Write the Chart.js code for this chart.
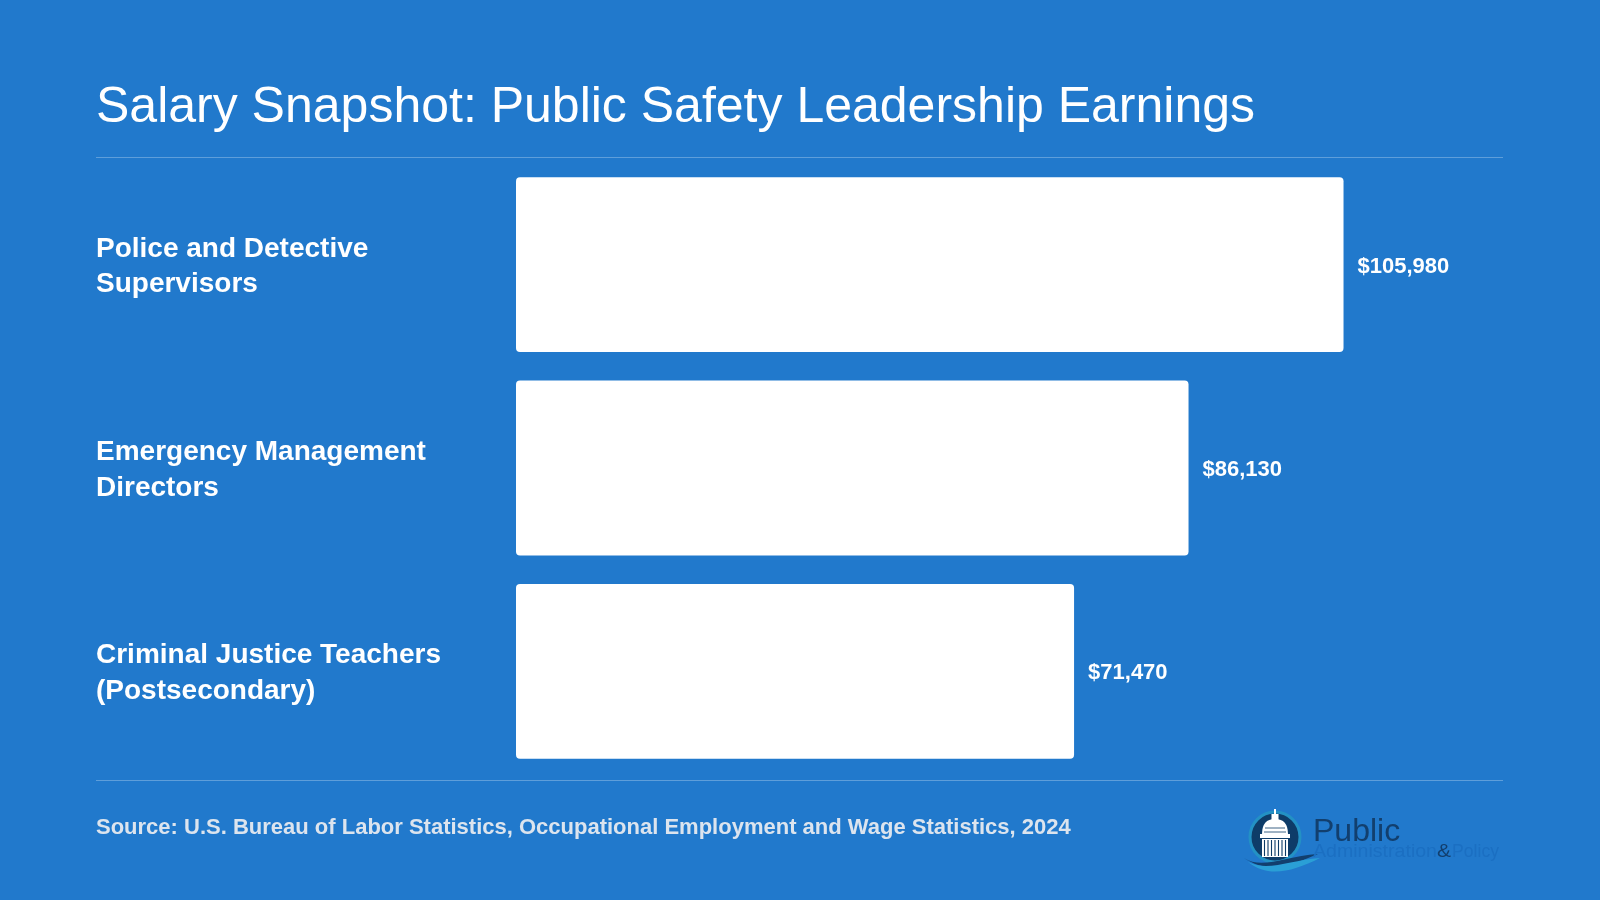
<!DOCTYPE html>
<html>
<head>
<meta charset="utf-8">
<script src="https://cdn.jsdelivr.net/npm/chart.js@4/dist/chart.umd.min.js"></script>
<style>
  html, body { margin: 0; padding: 0; }
  body { width: 1600px; height: 900px; background: #2179cc; position: relative; overflow: hidden;
         font-family: "Liberation Sans", Arial, Helvetica, sans-serif; }
  #chart { position: absolute; left: 0; top: 0; }
  .title { position: absolute; left: 96px; top: 80px; font-size: 50px; line-height: 50px; color: #fff; white-space: nowrap; }
  .rule { position: absolute; left: 96px; width: 1407px; height: 1px; background: rgba(255,255,255,0.28); }
  .source { position: absolute; left: 96px; top: 816px; font-size: 22px; line-height: 22px; font-weight: bold; color: #dce4ee; white-space: nowrap; }
  .logo { position: absolute; left: 1240px; top: 800px; }
</style>
</head>
<body>
<div class="title">Salary Snapshot: Public Safety Leadership Earnings</div>
<div class="rule" style="top:157px"></div>
<div class="rule" style="top:780px"></div>
<canvas id="chart" width="1600" height="900"></canvas>
<div class="source">Source: U.S. Bureau of Labor Statistics, Occupational Employment and Wage Statistics, 2024</div>
<svg class="logo" width="280" height="80" viewBox="0 0 280 80">
  <circle cx="35" cy="37" r="25" fill="#0e3c68" stroke="#2391c4" stroke-width="3"/>
  <rect x="34" y="9" width="2" height="6" fill="#fff"/>
  <rect x="31.5" y="14" width="7" height="6" fill="#fff"/>
  <path d="M22 34 Q22 19 35 19 Q48 19 48 34 Z" fill="#fff"/>
  <path d="M25 28 H45 M24 32 H46" stroke="#0e3c68" stroke-width="0.8"/>
  <rect x="20" y="34" width="30" height="4" fill="#fff"/>
  <rect x="22" y="39" width="26" height="18" fill="#fff"/>
  <path d="M24.5 40 V56 M28 40 V56 M31.5 40 V56 M35 40 V56 M38.5 40 V56 M42 40 V56 M45.5 40 V56" stroke="#0e3c68" stroke-width="1.1"/>
  <path d="M4 58 C22 70 45 56 78 54 C50 66 28 74 4 58 Z" fill="#123f6e"/>
  <path d="M8 62 C28 72 50 60 80 58 C52 72 28 78 8 62 Z" fill="#2a9fd6"/>
  <text x="73" y="41" font-size="32" fill="#123f6e" font-family="Liberation Sans, Arial, sans-serif">Public</text>
  <text x="73" y="57" font-size="19" fill="#1b6fc2" font-family="Liberation Sans, Arial, sans-serif" textLength="124" lengthAdjust="spacingAndGlyphs">Administration</text>
  <text x="197" y="57" font-size="19" fill="#123f6e" font-family="Liberation Sans, Arial, sans-serif" textLength="14" lengthAdjust="spacingAndGlyphs">&amp;</text>
  <text x="212" y="57" font-size="19" fill="#1b6fc2" font-family="Liberation Sans, Arial, sans-serif" textLength="47" lengthAdjust="spacingAndGlyphs">Policy</text>
</svg>
<script>
// categories and values (median annual wage, USD)
const occupations = [
  ['Police and Detective', 'Supervisors'],
  ['Emergency Management', 'Directors'],
  ['Criminal Justice Teachers', '(Postsecondary)']
];
const salaries = [105980, 86130, 71470];
const axisMax = 120000;

const fontFamily = '"Liberation Sans", Arial, Helvetica, sans-serif';

// writes "$105,980" just past the end of each bar
const valueLabels = {
  id: 'valueLabels',
  afterDatasetsDraw(chart) {
    const ctx = chart.ctx;
    const meta = chart.getDatasetMeta(0);
    ctx.save();
    ctx.font = 'bold 22px ' + fontFamily;
    ctx.fillStyle = '#ffffff';
    ctx.textAlign = 'left';
    ctx.textBaseline = 'middle';
    meta.data.forEach(function (bar, i) {
      ctx.fillText('$' + salaries[i].toLocaleString('en-US'), bar.x + 14, bar.y + 2);
    });
    ctx.restore();
  }
};

new Chart(document.getElementById('chart').getContext('2d'), {
  type: 'bar',
  data: {
    labels: occupations,
    datasets: [{
      data: salaries,
      backgroundColor: '#ffffff',
      borderWidth: 0,
      borderRadius: 4,
      borderSkipped: false,
      categoryPercentage: 0.86,
      barPercentage: 1
    }]
  },
  options: {
    indexAxis: 'y',
    responsive: false,
    devicePixelRatio: 1,
    animation: false,
    layout: { padding: { left: 96, top: 163, bottom: 127, right: 147 } },
    plugins: { legend: { display: false }, tooltip: { enabled: false } },
    scales: {
      x: { display: false, min: 0, max: axisMax },
      y: {
        grid: { display: false },
        border: { display: false },
        afterFit(scale) { scale.width = 420; },
        ticks: {
          color: '#ffffff',
          crossAlign: 'far',
          padding: 0,
          labelOffset: 2,
          font: { family: fontFamily, size: 28, weight: 'bold', lineHeight: 1.275 }
        }
      }
    }
  },
  plugins: [valueLabels]
});
</script>
</body>
</html>
